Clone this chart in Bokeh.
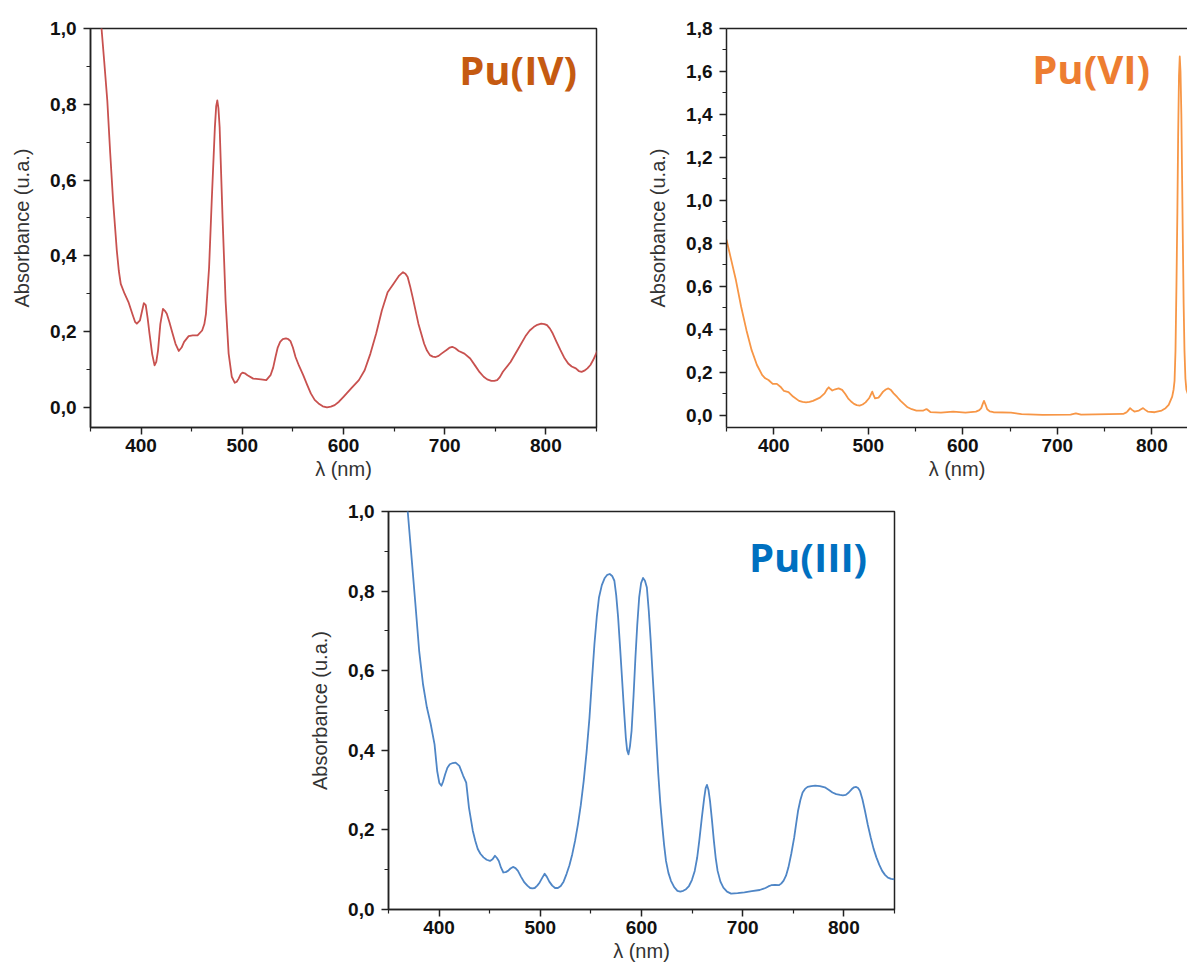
from bokeh.plotting import figure
from bokeh.layouts import column, row, Spacer
from bokeh.models import FixedTicker, CustomJSTickFormatter, Label, LinearAxis, Range1d
from bokeh.embed import file_html
from bokeh.resources import INLINE

# ---------------- data (wavelength nm, absorbance) ----------------
pu4 = [(358.5, 1.08), (360.9, 1.0), (363.5, 0.915), (366.6, 0.81), (369.5, 0.67), (372.3, 0.546), (376, 0.414),
       (378, 0.36), (379.9, 0.326), (383.7, 0.30), (387.5, 0.278), (391.3, 0.247), (394, 0.226), (395.8, 0.221), (398.9, 0.23),
       (401, 0.255), (402.7, 0.275), (404.6, 0.27), (406.5, 0.235), (408.3, 0.195), (411, 0.14), (413.3, 0.111),
       (415, 0.12), (416.7, 0.15), (419, 0.22), (421.6, 0.26), (423.5, 0.255), (425.4, 0.247), (428, 0.225),
       (431.1, 0.195), (434, 0.168), (437.2, 0.149), (440, 0.158), (442.5, 0.173), (447, 0.188), (451, 0.19),
       (455.8, 0.19), (460.3, 0.203), (462.5, 0.22), (464.1, 0.247), (467.2, 0.37), (469.8, 0.546), (472.9, 0.739),
       (474.2, 0.795), (475.3, 0.81), (476.4, 0.79), (477.6, 0.74), (480.5, 0.50), (483.5, 0.28), (486.5, 0.142),
       (489.6, 0.081), (492.6, 0.065), (494.5, 0.068), (496.4, 0.076), (498.5, 0.088), (500.2, 0.092),
       (502.5, 0.09), (505.1, 0.085), (510.8, 0.076), (518.4, 0.074), (523.7, 0.072), (527.9, 0.085),
       (530.5, 0.105), (532.8, 0.133), (535, 0.158), (537.4, 0.173), (540, 0.18), (543.1, 0.182), (545.5, 0.18),
       (547.6, 0.175), (550, 0.158), (552.6, 0.133), (556, 0.11), (560.2, 0.085), (564, 0.06), (567.7, 0.037),
       (571.5, 0.02), (575.3, 0.0105), (579.5, 0.003), (583.7, 0.0), (587.5, 0.002), (591.3, 0.006),
       (595.5, 0.015), (600, 0.028), (607.6, 0.05), (615.2, 0.072), (620.9, 0.098), (626.6, 0.142),
       (632.3, 0.195), (637.9, 0.256), (643.6, 0.304), (649.3, 0.326), (655, 0.348), (658.8, 0.357),
       (661.2, 0.353), (663.4, 0.344), (665.8, 0.32), (668.3, 0.291), (674, 0.221), (679.7, 0.168),
       (682.5, 0.15), (685.4, 0.138), (688.2, 0.134), (691.1, 0.133), (694, 0.136), (696.8, 0.142), (702.5, 0.153),
       (705, 0.158), (707.4, 0.16), (710.5, 0.156), (713.9, 0.149), (719.5, 0.142), (725.2, 0.129), (730.9, 0.107),
       (734.5, 0.093), (738.5, 0.081), (742, 0.074), (746.1, 0.070), (749, 0.07), (751.8, 0.072), (754.5, 0.08),
       (757.5, 0.094), (765.1, 0.12), (772.7, 0.155), (780.3, 0.19), (784, 0.203), (787.9, 0.212), (791.5, 0.218),
       (795.4, 0.221), (798.5, 0.22), (801.1, 0.217), (804, 0.208), (806.8, 0.195), (810.5, 0.173),
       (814.4, 0.151), (818, 0.132), (822, 0.116), (825.5, 0.108), (829.6, 0.103), (832.5, 0.096),
       (835.3, 0.094), (838, 0.097), (841, 0.103), (844, 0.112), (846.7, 0.125), (851.2, 0.151)]

pu6 = [(350, 0.817), (355.1, 0.721), (360, 0.628), (365.5, 0.505), (371.1, 0.396), (376.6, 0.303),
       (382.2, 0.234), (387.8, 0.187), (391, 0.172), (394.4, 0.164), (398.9, 0.146), (403.3, 0.146), (407, 0.133),
       (410.8, 0.113), (415.6, 0.108), (420.4, 0.087), (426.7, 0.067), (430.5, 0.062), (434.1, 0.06),
       (437.8, 0.062), (441.5, 0.067), (448.9, 0.082), (453.8, 0.102), (456.2, 0.12), (458.2, 0.13),
       (460, 0.122), (461.9, 0.115), (465, 0.121), (468.6, 0.125), (472.3, 0.118), (475.5, 0.1), (478.6, 0.079),
       (481.8, 0.064), (484.9, 0.053), (487.8, 0.047), (490.8, 0.045), (494, 0.05), (497.1, 0.06), (500.8, 0.079),
       (502.6, 0.095), (504.2, 0.11), (505.7, 0.092), (507.1, 0.079), (510.8, 0.082), (513.2, 0.095),
       (515.7, 0.11), (518.5, 0.12), (521.2, 0.125), (524, 0.117), (526.8, 0.102), (530.5, 0.085),
       (534.2, 0.067), (537.9, 0.052), (541.6, 0.037), (546, 0.028), (550.9, 0.022), (558.3, 0.022),
       (560.5, 0.027), (562, 0.028), (565.7, 0.015), (576.8, 0.012), (589.8, 0.017), (602.8, 0.012),
       (613.9, 0.017), (617.5, 0.024), (619.5, 0.033), (621, 0.052), (622.4, 0.067), (624, 0.05), (625.8, 0.028),
       (628.5, 0.018), (632.4, 0.014), (651, 0.012), (662.1, 0.005), (684.3, 0.002), (714, 0.003),
       (719.6, 0.009), (725.1, 0.003), (769.6, 0.006), (772.5, 0.012), (774, 0.017), (777, 0.033),
       (779, 0.025), (781.5, 0.017), (786.3, 0.022), (788.5, 0.028), (790.7, 0.033), (793, 0.025),
       (795.6, 0.017), (803, 0.014), (810.4, 0.022), (814.5, 0.033), (817.8, 0.048), (821.5, 0.087),
       (823, 0.12), (824, 0.16), (825, 0.3), (826, 0.6), (827, 0.95), (827.8, 1.3), (828.7, 1.58),
       (829.5, 1.67), (830.3, 1.6), (831.2, 1.4), (832, 1.1), (832.8, 0.8), (833.6, 0.52), (834.5, 0.3),
       (835.5, 0.17), (836.5, 0.12), (838, 0.1)]

pu3 = [(367, 1.05), (369, 1.0), (372.8, 0.884), (376.6, 0.767), (380.3, 0.65), (384.1, 0.566),
       (387.9, 0.508), (391.7, 0.466), (395.5, 0.415), (398.1, 0.348), (400.2, 0.318), (402.3, 0.311),
       (404, 0.322), (406, 0.34), (408.2, 0.356), (410.6, 0.365), (413.5, 0.368), (416.3, 0.369), (420, 0.361),
       (423.8, 0.336), (426.8, 0.319), (429.5, 0.256), (433.3, 0.198), (435.8, 0.172), (438.2, 0.152),
       (440.8, 0.14), (443.9, 0.131), (447, 0.125), (450.3, 0.122), (452.8, 0.126), (455.2, 0.135),
       (457, 0.13), (459, 0.122), (461.2, 0.105), (463.5, 0.093), (465.8, 0.094), (468.1, 0.097),
       (470.5, 0.103), (473, 0.107), (475.5, 0.104), (477.9, 0.097), (481, 0.082), (484.3, 0.068),
       (487.2, 0.06), (490, 0.054), (492.2, 0.053), (494.5, 0.054), (497, 0.06), (499.4, 0.068),
       (502, 0.08), (504.3, 0.09), (506.5, 0.082), (508.9, 0.07), (511.8, 0.06), (514.6, 0.054),
       (517.4, 0.054), (520.2, 0.059), (523, 0.07), (525.9, 0.089), (528.8, 0.111), (531.6, 0.139),
       (534.4, 0.173), (537.2, 0.214), (540, 0.262), (542.9, 0.323), (545.7, 0.395), (548.6, 0.482),
       (551, 0.575), (553.5, 0.667), (555.8, 0.735), (558, 0.784), (560.8, 0.815), (563.7, 0.833),
       (566.2, 0.841), (568.6, 0.843), (571, 0.838), (573.2, 0.826), (575, 0.79), (576.9, 0.734),
       (578.8, 0.66), (580.7, 0.583), (582.6, 0.505), (584.5, 0.432), (585.8, 0.4), (587.1, 0.39),
       (588.6, 0.41), (590.2, 0.449), (592.1, 0.535), (594, 0.633), (595.8, 0.715), (597.7, 0.784),
       (599.6, 0.82), (601.5, 0.833), (603.4, 0.826), (605.3, 0.809), (607.2, 0.75), (609.1, 0.675),
       (611, 0.59), (612.9, 0.508), (614.8, 0.42), (616.6, 0.34), (618.5, 0.27), (620.4, 0.214),
       (622.3, 0.163), (624.2, 0.122), (626.6, 0.092), (629.1, 0.072), (632.3, 0.056), (635.5, 0.047),
       (638.3, 0.045), (641.2, 0.047), (644, 0.051), (646.9, 0.059), (649.8, 0.074), (652.6, 0.097),
       (655, 0.13), (657.1, 0.173), (659.6, 0.23), (662, 0.281), (663.4, 0.305), (664.7, 0.313),
       (666.2, 0.3), (667.7, 0.273), (669.6, 0.225), (671.5, 0.173), (673.3, 0.13), (675.2, 0.097),
       (678, 0.07), (680.9, 0.055), (684.5, 0.045), (688.5, 0.04), (695, 0.041), (701.7, 0.043),
       (709, 0.046), (716.8, 0.049), (722.5, 0.054), (725.3, 0.058), (728.2, 0.061), (732, 0.062),
       (735.7, 0.061), (738, 0.065), (740.3, 0.072), (742.8, 0.085), (745.2, 0.106), (748, 0.14),
       (750.9, 0.181), (752.8, 0.215), (754.7, 0.248), (757, 0.275), (759.2, 0.294), (761.6, 0.303),
       (764.1, 0.308), (767.8, 0.31), (771.6, 0.311), (776.3, 0.31), (781.1, 0.307), (784.9, 0.301),
       (788.7, 0.294), (792.4, 0.29), (796.2, 0.288), (799, 0.287), (801.9, 0.288), (804.8, 0.294),
       (807.6, 0.302), (810, 0.307), (812.1, 0.308), (814, 0.305), (815.9, 0.298), (818.3, 0.277),
       (820.8, 0.248), (823.6, 0.213), (826.5, 0.181), (829.3, 0.153), (832.1, 0.131), (835, 0.112),
       (837.8, 0.097), (840.6, 0.087), (843.5, 0.08), (846.7, 0.077), (849.9, 0.076)]

x_major = [400, 500, 600, 700, 800]
x_minor = [350, 450, 550, 650, 750, 850]
y_major_1 = [0.0, 0.2, 0.4, 0.6, 0.8, 1.0]
y_minor_1 = [0.1, 0.3, 0.5, 0.7, 0.9]
y_major_2 = [0.0, 0.2, 0.4, 0.6, 0.8, 1.0, 1.2, 1.4, 1.6, 1.8]
y_minor_2 = [0.1, 0.3, 0.5, 0.7, 0.9, 1.1, 1.3, 1.5, 1.7]

x_title = "λ (nm)"
y_title = "Absorbance (u.a.)"

AX = "#222222"
FONT = "Liberation Sans"


def make_fig(width, height, xr, yr, borders, yt, ym, outline=True):
    p = figure(width=width, height=height, x_range=Range1d(*xr), y_range=Range1d(*yr),
               output_backend="svg", toolbar_location=None, tools="",
               min_border_left=borders[0], min_border_right=borders[1],
               min_border_top=borders[2], min_border_bottom=borders[3])
    p.grid.visible = False
    p.background_fill_color = "white"
    p.border_fill_color = "white"
    if outline:
        p.outline_line_color = AX
        p.outline_line_width = 1.5
        p.outline_line_alpha = 1.0
    else:
        p.outline_line_color = None
    p.xaxis.ticker = FixedTicker(ticks=x_major, minor_ticks=x_minor)
    p.yaxis.ticker = FixedTicker(ticks=yt, minor_ticks=ym)
    p.yaxis.formatter = CustomJSTickFormatter(code="return tick.toFixed(1).replace('.', ',');")
    for ax in (p.xaxis, p.yaxis):
        ax.axis_line_color = AX
        ax.axis_line_width = 1.5
        ax.major_tick_line_color = AX
        ax.major_tick_line_width = 1.5
        ax.minor_tick_line_color = AX
        ax.minor_tick_line_width = 1.2
        ax.major_tick_in = 0
        ax.major_tick_out = 7
        ax.minor_tick_in = 0
        ax.minor_tick_out = 4
        ax.major_label_text_font = FONT
        ax.major_label_text_font_style = "bold"
        ax.major_label_text_font_size = "19px"
        ax.major_label_text_color = "#111111"
        ax.axis_label_text_font = FONT
        ax.axis_label_text_font_style = "normal"
        ax.axis_label_text_font_size = "20px"
        ax.axis_label_text_color = "#333333"
    p.xaxis.axis_label = x_title
    p.yaxis.axis_label = y_title
    p.xaxis.major_label_standoff = 4
    p.xaxis.axis_label_standoff = 3
    p.yaxis.major_label_standoff = 7
    p.yaxis.axis_label_standoff = 14
    return p


def tag(x, y, text, color):
    return Label(x=x, y=y, text=text, text_align="right", text_baseline="alphabetic",
                 text_font="Open Sans", text_font_style="bold", text_font_size="40px",
                 text_color=color)


# Pu(IV)
p1 = make_fig(644, 490, (350, 850), (-0.053, 1.0), (90, 48, 27, 63), y_major_1, y_minor_1)
w, a = zip(*pu4)
p1.line(list(w), list(a), line_color="#C8514F", line_width=1.8, line_join="round")
p1.add_layout(tag(830.7, 0.893, "Pu(IV)", "#C55A11"))

# Pu(VI)
p2 = make_fig(543, 490, (350, 837.7), (-0.057, 1.8), (48, 0, 28, 63), y_major_2, y_minor_2, outline=False)
top = LinearAxis(ticker=FixedTicker(ticks=[]), axis_line_color=AX, axis_line_width=1.5,
                 major_label_text_font_size="0px", major_tick_line_color=None, minor_tick_line_color=None)
p2.add_layout(top, "above")
w, a = zip(*pu6)
p2.line(list(w), list(a), line_color="#F79646", line_width=1.8, line_join="round")
p2.add_layout(tag(798, 1.612, "Pu(VI)", "#ED7D31"))

# Pu(III)
p3 = make_fig(616, 475, (350, 850), (0.0, 1.0), (90, 20, 21, 56), y_major_1, y_minor_1)
w, a = zip(*pu3)
p3.line(list(w), list(a), line_color="#4F86C6", line_width=1.8, line_join="round")
p3.add_layout(tag(823, 0.888, "Pu(III)", "#0070C0"))

layout = column(row(p1, p2), row(Spacer(width=298, height=475), p3))

open("out.html", "w").write(file_html(layout, INLINE))
